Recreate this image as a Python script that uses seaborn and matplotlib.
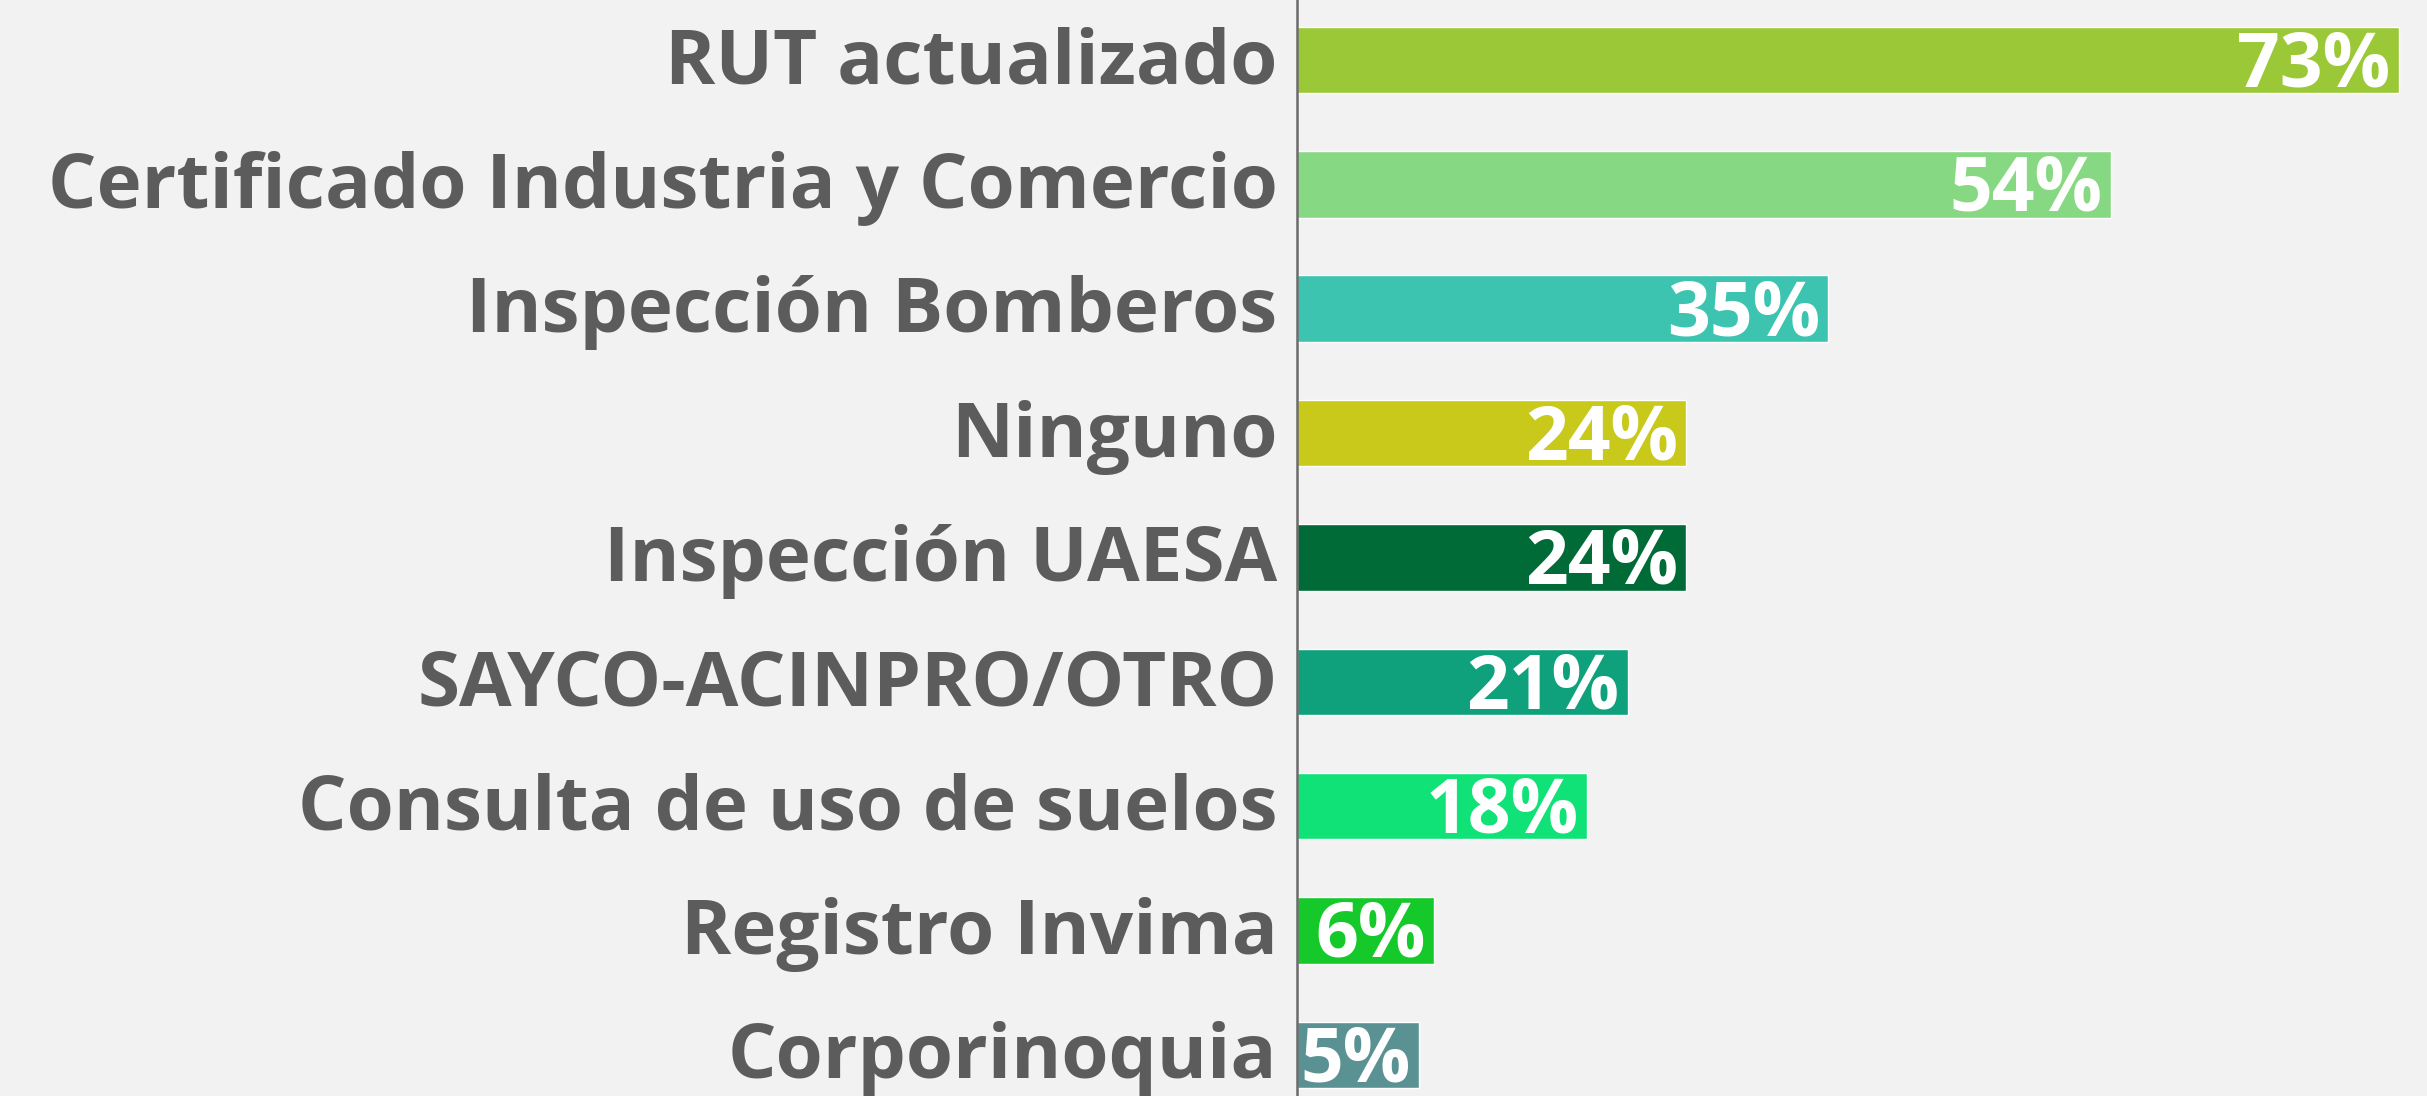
import pandas as pd
import matplotlib.pyplot as plt
import matplotlib.transforms as mtransforms
import seaborn as sns

# data
categories = [
    "RUT actualizado",
    "Certificado Industria y Comercio",
    "Inspección Bomberos",
    "Ninguno",
    "Inspección UAESA",
    "SAYCO-ACINPRO/OTRO",
    "Consulta de uso de suelos",
    "Registro Invima",
    "Corporinoquia",
]
# drawn bar lengths (small bars are drawn a little wider than their value)
bar_lengths = [73, 53.9, 35.2, 25.8, 25.8, 21.9, 19.2, 9.1, 8.1]
pct_labels = ["73%", "54%", "35%", "24%", "24%", "21%", "18%", "6%", "5%"]
bar_colors = ["#9BC837", "#87D882", "#3DC4B1", "#C8C91A", "#006B37",
              "#0EA17C", "#10E277", "#15C92A", "#5A9294"]

df = pd.DataFrame({"categoria": categories, "valor": bar_lengths})

sns.set_style("white")
plt.rcParams["font.family"] = ["Open Sans", "DejaVu Sans"]

bg = "#f2f2f2"
fig = plt.figure(figsize=(24.27, 10.96), dpi=100)
fig.patch.set_facecolor(bg)
ax = fig.add_axes([1297 / 2427, 0, 1 - 1297 / 2427, 1])
ax.set_facecolor(bg)

sns.barplot(data=df, y="categoria", x="valor", hue="categoria",
            palette=bar_colors, orient="h", width=0.535, legend=False,
            saturation=1, ax=ax)

ax.set_xlim(0, 74.86)
ax.set_ylim(8.33, -0.482)
ax.set_xlabel("")
ax.set_ylabel("")
ax.set_xticks([])

# category labels, nudged up a little like the original
ax.tick_params(axis="y", length=0, pad=14)
nudge = mtransforms.ScaledTranslation(0, 5 / 100, fig.dpi_scale_trans)
for lab in ax.get_yticklabels():
    lab.set_fontsize(55)
    lab.set_fontweight("bold")
    lab.set_color("#5c5c5c")
    lab.set_verticalalignment("center_baseline")
    lab.set_transform(lab.get_transform() + nudge)

for i, (v, t) in enumerate(zip(bar_lengths, pct_labels)):
    ax.annotate(t, xy=(v, i), xytext=(-6, -19), textcoords="offset points",
                ha="right", va="baseline", color="white",
                fontsize=54, fontweight="bold")

for side in ["top", "right", "bottom"]:
    ax.spines[side].set_visible(False)
ax.spines["left"].set_color("#6b6b6b")
ax.spines["left"].set_linewidth(1.8)

plt.savefig("out.png", dpi=100, facecolor=bg)
plt.close()
